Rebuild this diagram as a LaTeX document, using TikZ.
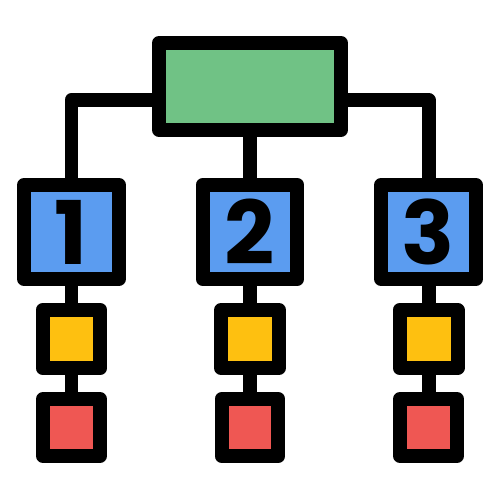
\documentclass[tikz,border=0pt]{standalone}
\usepackage{fontspec}
\setmainfont{Poppins}
\definecolor{gfill}{RGB}{112,194,133}
\definecolor{bfill}{RGB}{91,156,240}
\definecolor{yfill}{RGB}{254,192,16}
\definecolor{rfill}{RGB}{239,87,83}
\tikzset{
  box/.style={draw=black, line width=0.28cm, line join=round, rectangle, inner sep=0pt, outer sep=0pt},
  topbox/.style={box, fill=gfill, minimum width=3.64cm, minimum height=1.74cm},
  numbox/.style={box, fill=bfill, minimum width=1.9cm, minimum height=1.88cm, font=\fontsize{50}{50}\selectfont\bfseries},
  ybox/.style={box, fill=yfill, minimum width=1.16cm, minimum height=1.16cm},
  rbox/.style={box, fill=rfill, minimum width=1.14cm, minimum height=1.14cm},
  link/.style={draw=black, line width=0.28cm, line join=round}
}
\begin{document}
\begin{tikzpicture}[x=0.02cm,y=-0.02cm]
\useasboundingbox (0,0) rectangle (500,500);
\foreach \i/\x in {1/71.5,2/250,3/428.5}{
  \node[ybox] (y\i) at (\x,339) {};
  \node[rbox] (r\i) at (\x,427.5) {};
  \draw[link] (y\i.south) -- (r\i.north);
}
\node[topbox] (g) at (250,86.5) {};
\node[numbox] (n1) at (71.5,232) {1};
\node[numbox] (n2) at (250,232) {2};
\node[numbox] (n3) at (428.5,232) {3};
\foreach \i in {1,2,3}{\draw[link] (n\i.south) -- (y\i.north);}
\draw[link] ([yshift=-0.27cm]g.west) -| (n1.north);
\draw[link] ([yshift=-0.27cm]g.east) -| (n3.north);
\draw[link] (g.south) -- (n2.north);
\end{tikzpicture}
\end{document}
